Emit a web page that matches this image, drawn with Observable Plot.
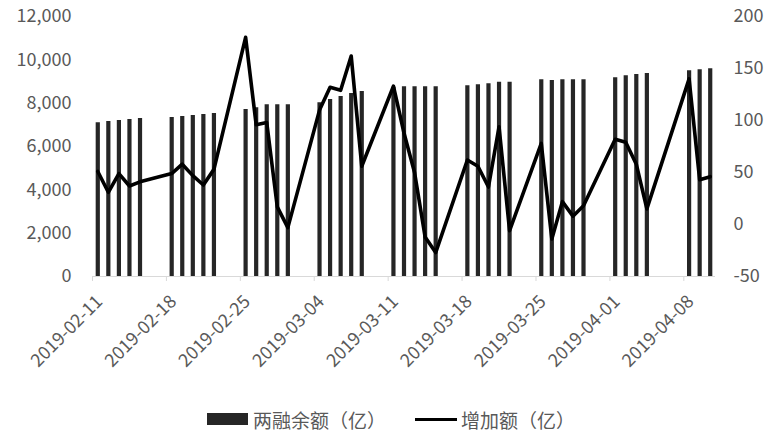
<!DOCTYPE html>
<html>
<head>
<meta charset="utf-8">
<script src="https://cdn.jsdelivr.net/npm/d3@7"></script>
<script src="https://cdn.jsdelivr.net/npm/@observablehq/plot@0.6"></script>
<style>
  html, body { margin: 0; padding: 0; background: #fff; }
  #wrap { position: relative; width: 773px; height: 444px; font-family: "Noto Sans CJK SC", "Noto Sans", sans-serif; color: #595959; }
  #chart svg { display: block; }
  .leg { position: absolute; font-size: 19px; line-height: 1; white-space: nowrap; }
</style>
</head>
<body>
<div id="wrap">
  <div id="chart"></div>
  <div class="leg" style="left:207px; top:413px; width:41px; height:12px; background:#262626;"></div>
  <div class="leg" id="lg1" style="left:253px; top:410px;"></div>
  <div class="leg" style="left:415px; top:417.5px; width:42px; height:3.5px; background:#000;"></div>
  <div class="leg" id="lg2" style="left:461px; top:410px;"></div>
</div>
<script>
const dates = [
  "2019-02-11","2019-02-12","2019-02-13","2019-02-14","2019-02-15",
  "2019-02-18","2019-02-19","2019-02-20","2019-02-21","2019-02-22",
  "2019-02-25","2019-02-26","2019-02-27","2019-02-28","2019-03-01",
  "2019-03-04","2019-03-05","2019-03-06","2019-03-07","2019-03-08",
  "2019-03-11","2019-03-12","2019-03-13","2019-03-14","2019-03-15",
  "2019-03-18","2019-03-19","2019-03-20","2019-03-21","2019-03-22",
  "2019-03-25","2019-03-26","2019-03-27","2019-03-28","2019-03-29",
  "2019-04-01","2019-04-02","2019-04-03","2019-04-04",
  "2019-04-08","2019-04-09","2019-04-10"
];
const balance = [
  7094, 7154, 7200, 7246, 7292,
  7338, 7385, 7431, 7477, 7523,
  7708, 7785, 7923, 7923, 7923,
  8015, 8169, 8308, 8446, 8538,
  8740, 8754, 8754, 8754, 8754,
  8800, 8846, 8892, 8969, 8969,
  9077, 9046, 9077, 9077, 9077,
  9169, 9262, 9323, 9369,
  9492, 9538, 9585
];
const increase = [
  51, 31, 49, 37, 41,
  49, 58, 47, 38, 53,
  180, 96, 98, 17, -3,
  110, 132, 129, 162, 56,
  133, 88, 50, -12, -27,
  62, 56, 36, 94, -6,
  78, -14, 22, 8, 18,
  82, 79, 58, 15,
  140, 43, 46
];
const xTicks = ["2019-02-11","2019-02-18","2019-02-25","2019-03-04","2019-03-11","2019-03-18","2019-03-25","2019-04-01","2019-04-08"];
const leftTicks = [0, 2000, 4000, 6000, 8000, 10000, 12000];
const rightTicks = [-50, 0, 50, 100, 150, 200];
const seriesNames = ["两融余额（亿）", "增加额（亿）"];

document.getElementById("lg1").textContent = seriesNames[0];
document.getElementById("lg2").textContent = seriesNames[1];

// map the right-axis scale [-50, 200] onto the left scale [0, 12000]
const r2l = d3.scaleLinear().domain([-50, 200]).range([0, 12000]);

const DAY = 864e5;
const data = dates.map((d, i) => ({
  mid: new Date(new Date(d + "T00:00:00Z").getTime() + DAY / 2),
  bal: balance[i],
  inc: r2l(increase[i])
}));
const tickDates = xTicks.map(d => new Date(d + "T00:00:00Z"));

const H = 392;
const chart = Plot.plot({
  width: 773,
  height: H,
  marginLeft: 92,
  marginRight: 58,
  marginTop: 16,
  marginBottom: H - 276,
  style: { fontFamily: '"Noto Sans CJK SC", "Noto Sans", sans-serif', fontSize: "18px", color: "#595959", background: "#fff" },
  x: { type: "utc", domain: [new Date("2019-02-11T00:00:00Z"), new Date("2019-04-11T00:00:00Z")] },
  y: { domain: [0, 12000] },
  marks: [
    Plot.ruleX(data, { x: "mid", y1: 0, y2: "bal", stroke: "#262626", strokeWidth: 4.2 }),
    Plot.line(data, { x: "mid", y: "inc", stroke: "#000", strokeWidth: 3.6, strokeLinejoin: "round" }),
    Plot.ruleY([0], { stroke: "#d9d9d9", strokeWidth: 1 }),
    Plot.axisX(tickDates, {
      tickFormat: () => "", tickSize: 5, stroke: "#d9d9d9", label: null
    }),
    Plot.axisX(tickDates, {
      tickFormat: d3.utcFormat("%Y-%m-%d"), tickRotate: -45, tickSize: 0, tickPadding: 4,
      dx: 7, dy: 18, fill: "#595959", label: null, fontSize: 18
    }),
    Plot.axisY(leftTicks, {
      anchor: "left", tickFormat: d3.format(","), tickSize: 0, tickPadding: 21,
      fill: "#595959", label: null, fontSize: 18
    }),
    Plot.axisY(rightTicks.map(v => r2l(v)), {
      anchor: "right", tickFormat: d => String(Math.round(r2l.invert(d))), tickSize: 0, tickPadding: 18,
      fill: "#595959", label: null, fontSize: 18
    })
  ]
});
document.getElementById("chart").appendChild(chart);
</script>
</body>
</html>
